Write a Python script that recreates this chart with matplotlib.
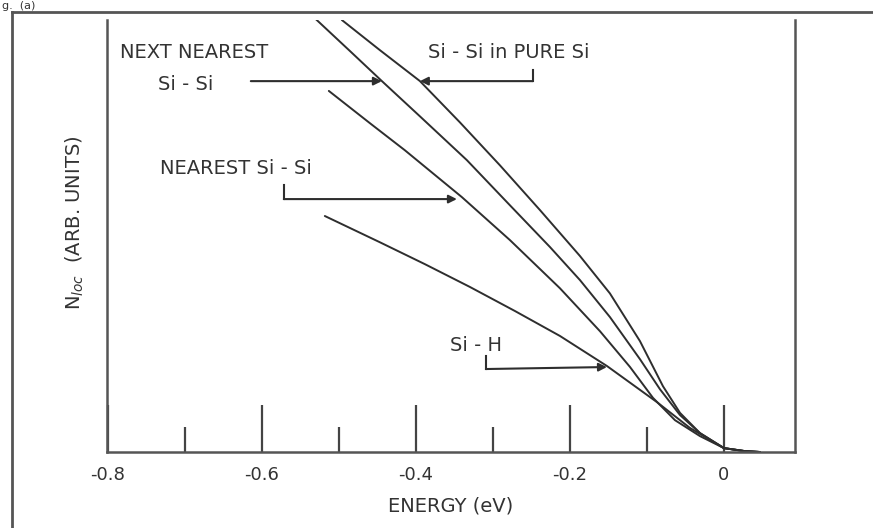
import numpy as np
import matplotlib
matplotlib.use("Agg")
import matplotlib.pyplot as plt
from matplotlib.lines import Line2D

# local density of states near the band edge (energy in eV, N_loc in arb. units)
energy_pure = [-0.4961, -0.4468, -0.3948, -0.3429, -0.2909, -0.2390, -0.1870, -0.1481,
               -0.1091, -0.0792, -0.0571, -0.0312, 0.0, 0.0273, 0.0468]
nloc_pure = [10.05, 9.35, 8.63, 7.67, 6.67, 5.63, 4.56, 3.69, 2.58, 1.53, 0.91, 0.44,
             0.09, 0.02, 0.0]

energy_next = [-0.5299, -0.4857, -0.4442, -0.3948, -0.3338, -0.2779, -0.2260, -0.1870,
               -0.1481, -0.1091, -0.0831, -0.0571, -0.0312, 0.0, 0.0273, 0.0468]
nloc_next = [10.07, 9.33, 8.63, 7.81, 6.79, 5.74, 4.77, 4.00, 3.14, 2.16, 1.46, 0.86,
             0.44, 0.09, 0.02, 0.0]

energy_near = [-0.5130, -0.4597, -0.4143, -0.3403, -0.2779, -0.2130, -0.1610, -0.1221,
               -0.0922, -0.0636, -0.0312, 0.0, 0.0273, 0.0468]
nloc_near = [8.40, 7.65, 7.02, 5.93, 4.93, 3.81, 2.81, 1.98, 1.26, 0.74, 0.37, 0.09,
             0.02, 0.0]

energy_sih = [-0.5182, -0.4468, -0.3883, -0.3299, -0.2714, -0.2130, -0.1519, -0.0870,
              -0.0442, 0.0, 0.0273, 0.0468]
nloc_sih = [5.49, 4.88, 4.37, 3.84, 3.28, 2.70, 2.00, 1.16, 0.56, 0.09, 0.02, 0.0]

major_ticks = [-0.8, -0.6, -0.4, -0.2, 0.0]
major_labels = ["-0.8", "-0.6", "-0.4", "-0.2", "0"]
minor_ticks = [-0.7, -0.5, -0.3, -0.1]

W, H = 873, 528
ink = "#2e2e2e"
plt.rcParams["font.family"] = ["DejaVu Sans"]

fig = plt.figure(figsize=(W / 100, H / 100), dpi=100)
ax = fig.add_axes([107 / W, (H - 452) / H, 688 / W, 432 / H])

for ex, ny in [(energy_pure, nloc_pure), (energy_next, nloc_next),
               (energy_near, nloc_near), (energy_sih, nloc_sih)]:
    ax.plot(ex, ny, color=ink, lw=1.4, solid_capstyle="round", solid_joinstyle="round")

ax.set_xlim(-0.801, 0.0922)
ax.set_ylim(0, 10.05)

for s in ["left", "bottom", "right"]:
    ax.spines[s].set_color("#555555")
    ax.spines[s].set_linewidth(1.8)
ax.spines["top"].set_visible(False)

ax.set_xticks(major_ticks)
ax.set_xticklabels(major_labels)
ax.set_xticks(minor_ticks, minor=True)
ax.tick_params(axis="x", which="major", direction="in", length=34, width=1.6,
               color="#444444", labelsize=13, labelcolor="#333333", pad=10)
ax.tick_params(axis="x", which="minor", direction="in", length=18, width=1.6,
               color="#444444")
ax.set_yticks([])

ax.set_xlabel("ENERGY (eV)", fontsize=14, color="#333333", labelpad=9)
ax.set_ylabel("N$_{loc}$  (ARB. UNITS)", fontsize=14, color="#333333")
ax.yaxis.set_label_coords(-0.03, 0.53)


def to_data(px, py):
    return (px - 724) / 770, (452 - py) / 43


arrow_kw = dict(arrowstyle="-|>", color=ink, lw=1.5, mutation_scale=12,
                shrinkA=0, shrinkB=0)

# plain arrow from "Si - Si" to the next-nearest curve
ax.annotate("", xy=to_data(382, 81), xytext=to_data(251, 81), arrowprops=arrow_kw)

# hooked arrows: short vertical stem, then horizontal run onto the curve
hooks = [((533, 70), (533, 81), (420, 81)),
         ((284, 185), (284, 199), (457, 199)),
         ((486, 356), (486, 369), (607, 367))]
for a, b, c in hooks:
    p0, p1, p2 = to_data(*a), to_data(*b), to_data(*c)
    ax.plot([p0[0], p1[0]], [p0[1], p1[1]], color=ink, lw=1.5)
    ax.annotate("", xy=p2, xytext=p1, arrowprops=arrow_kw)

text_kw = dict(fontsize=14, color="#333333", va="center", ha="left")
labels = [(120, 52, "NEXT NEAREST"),
          (158, 84, "Si - Si"),
          (428, 52, "Si - Si in PURE Si"),
          (160, 168, "NEAREST Si - Si"),
          (450, 345, "Si - H")]
for px, py, s in labels:
    ax.text(*to_data(px, py), s, **text_kw)

# outer frame of the panel and the caption above it
fig.add_artist(Line2D([12 / W, 1.0], [1 - 12 / H, 1 - 12 / H], color="#555555", lw=2))
fig.add_artist(Line2D([12 / W, 12 / W], [0.0, 1 - 12 / H], color="#555555", lw=2))
fig.text(2 / W, 1 - 1 / H, "g.  (a)", fontsize=8, color="#333333", va="top", ha="left")

fig.savefig("out.png", dpi=100)
